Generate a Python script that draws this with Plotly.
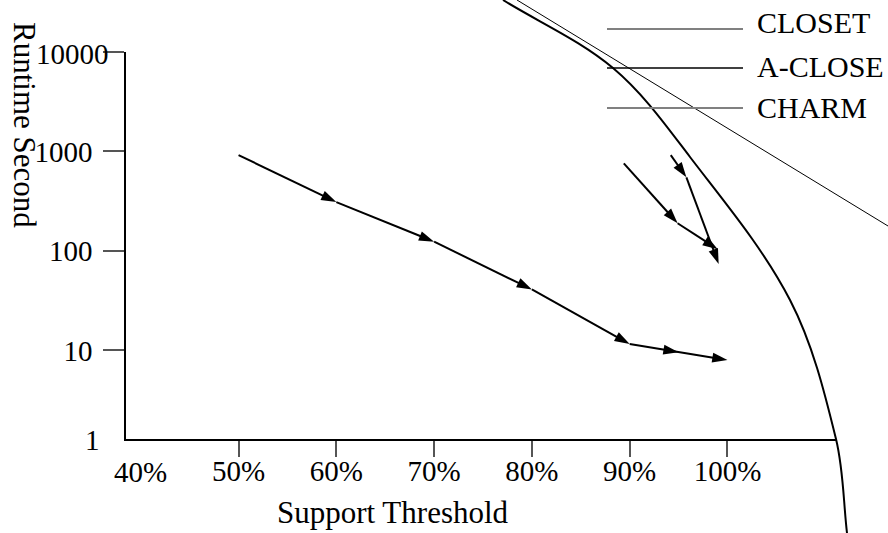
import math
import plotly.graph_objects as go

# ---------------- data ----------------
closet_support = [50, 60, 70, 80, 90, 95, 100]
closet_runtime = [920, 310, 124, 41, 11.6, 9.6, 8.0]

aclose_support = [89.4, 94.9, 99.0]
aclose_runtime = [760, 190, 104]

charm_support = [94.2, 95.8, 99.1]
charm_runtime = [920, 550, 74]

x_tickvals = [50, 60, 70, 80, 90, 100]
x_ticktext = ["50%", "60%", "70%", "80%", "90%", "100%"]
y_tickvals = [10, 100, 1000, 10000]
y_ticktext = ["10", "100", "1000", ""]

legend_names = ["CLOSET", "A-CLOSE", "CHARM"]
legend_colors = ["#808080", "#000000", "#808080"]

# ---------------- layout geometry ----------------
W, H = 888, 533
L, R, T, B = 126, 52, 52, 94
PW, PH = W - L - R, H - T - B
FONT = "Liberation Serif"
FS = 29


def px(x):
    return (x - L) / PW


def py(y):
    return (H - B - y) / PH


fig = go.Figure()

series = [(closet_support, closet_runtime, legend_names[0]),
          (aclose_support, aclose_runtime, legend_names[1]),
          (charm_support, charm_runtime, legend_names[2])]
for xs, ys, name in series:
    fig.add_trace(go.Scatter(
        x=xs, y=ys, name=name, mode="lines+markers",
        line=dict(color="black", width=2),
        marker=dict(symbol="arrow", size=16, color="black", angleref="previous",
                    line=dict(width=0)),
        showlegend=False, cliponaxis=False, hoverinfo="skip"))

# decorative curve (arc) crossing the top-right, smooth Hermite through guide points
arc_px = [(503, 0), (613, 68), (690, 157), (790, 300), (836, 439), (847, 533)]
n = len(arc_px)
tang = []
for i in range(n):
    a = arc_px[max(i - 1, 0)]
    b = arc_px[min(i + 1, n - 1)]
    dx, dy = b[0] - a[0], b[1] - a[1]
    d = math.hypot(dx, dy)
    tang.append((dx / d, dy / d))
path = "M%.5f,%.5f" % (px(arc_px[0][0]), py(arc_px[0][1]))
for i in range(n - 1):
    p1, p2 = arc_px[i], arc_px[i + 1]
    seg = math.hypot(p2[0] - p1[0], p2[1] - p1[1]) / 3
    c1 = (p1[0] + tang[i][0] * seg, p1[1] + tang[i][1] * seg)
    c2 = (p2[0] - tang[i + 1][0] * seg, p2[1] - tang[i + 1][1] * seg)
    path += " C%.5f,%.5f %.5f,%.5f %.5f,%.5f" % (px(c1[0]), py(c1[1]),
                                                 px(c2[0]), py(c2[1]),
                                                 px(p2[0]), py(p2[1]))
fig.add_shape(type="path", path=path, xref="paper", yref="paper",
              line=dict(color="black", width=2))
fig.add_shape(type="line", xref="paper", yref="paper",
              x0=px(517), y0=py(0), x1=px(888), y1=py(226),
              line=dict(color="black", width=1))

# legend drawn as long sample lines with labels
leg_line_y = [29, 68, 108]
leg_text_y = [23, 66, 108]
for name, col, ly, ty in zip(legend_names, legend_colors, leg_line_y, leg_text_y):
    fig.add_shape(type="line", xref="paper", yref="paper",
                  x0=px(607), x1=px(743), y0=py(ly), y1=py(ly),
                  line=dict(color=col, width=2 if col != "#000000" else 1.5))
    fig.add_annotation(text=name, xref="paper", yref="paper", x=px(755), y=py(ty),
                       xanchor="left", yanchor="middle", showarrow=False,
                       font=dict(family=FONT, size=30, color="black"))

# extra labels without tick marks / offset labels
fig.add_annotation(text="1", xref="paper", yref="paper", x=px(102), y=py(440),
                   xanchor="right", yanchor="middle", showarrow=False,
                   font=dict(family=FONT, size=FS, color="black"))
fig.add_annotation(text="10000", xref="paper", yref="y", x=px(111), y=4.0,
                   xanchor="right", yanchor="middle", yshift=-2, showarrow=False,
                   font=dict(family=FONT, size=FS, color="black"))
fig.add_annotation(text="40%", xref="x", yref="paper", x=40, y=py(472),
                   xanchor="center", yanchor="middle", showarrow=False,
                   font=dict(family=FONT, size=FS, color="black"))

# axis titles
fig.add_annotation(text="Support Threshold", xref="paper", yref="paper",
                   x=px(393), y=py(512), xanchor="center", yanchor="middle",
                   showarrow=False, font=dict(family=FONT, size=31, color="black"))
fig.add_annotation(text="Runtime Second", xref="paper", yref="paper",
                   x=px(24), y=py(125), xanchor="center", yanchor="middle",
                   textangle=90, showarrow=False,
                   font=dict(family=FONT, size=31, color="black"))

fig.update_layout(
    width=W, height=H,
    margin=dict(l=L, r=R, t=T, b=B, pad=0),
    paper_bgcolor="white", plot_bgcolor="white",
    font=dict(family=FONT, size=FS, color="black"),
    xaxis=dict(range=[38.49, 111.1], tickvals=x_tickvals, ticktext=x_ticktext,
               showgrid=False, zeroline=False, showline=True, linecolor="black",
               linewidth=1.5, ticks="outside", ticklen=16, tickwidth=1.5,
               tickcolor="#555555", tickfont=dict(family=FONT, size=FS),
               ticklabelstandoff=-11),
    yaxis=dict(type="log", range=[0.11, 4.0], tickvals=y_tickvals, ticktext=y_ticktext,
               showgrid=False, zeroline=False, showline=True, linecolor="black",
               linewidth=1.5, ticks="outside", ticklen=21, tickwidth=1.5,
               tickcolor="#555555", tickfont=dict(family=FONT, size=FS),
               ticklabelstandoff=5),
    showlegend=False,
)

fig.write_html("out.html", config={"displayModeBar": False})
with open("out.html", encoding="utf-8") as f:
    html = f.read()
html = html.replace("<head>", "<head><style>html,body{margin:0;padding:0;overflow:hidden;}</style>", 1)
with open("out.html", "w", encoding="utf-8") as f:
    f.write(html)
